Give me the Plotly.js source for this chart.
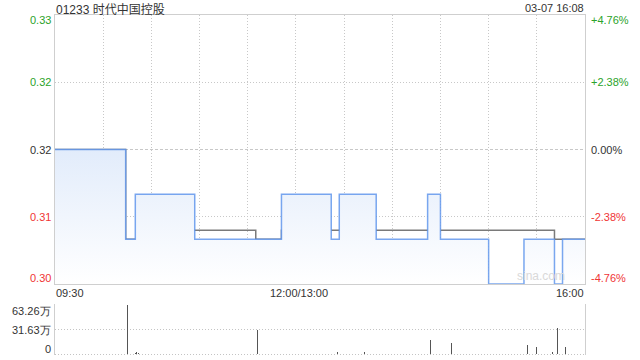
<!DOCTYPE html>
<html>
<head>
<meta charset="utf-8">
<script src="https://cdn.plot.ly/plotly-3.0.1.min.js"></script>
<style>html,body{margin:0;padding:0;background:#fff;}#chart{width:640px;height:360px;}</style>
</head>
<body>
<div id="chart"></div>
<script>
// ---- data (minutes since 09:30, lunch break removed; 150 = 12:00/13:00, 330 = 16:00) ----
const stockTitle = "01233 时代中国控股";
const stampText = "03-07 16:08";
const prevClose = 0.315;

const priceTimes  = [0, 44, 50, 87, 141, 172, 177, 200, 232, 240, 270, 292, 311, 316, 330];
const priceValues = [0.315, 0.305, 0.31, 0.305, 0.31, 0.305, 0.31, 0.305, 0.31, 0.305, 0.30, 0.305, 0.30, 0.305, 0.305];

const avgTimes  = [0, 44, 75, 125, 141, 311, 330];
const avgValues = [0.315, 0.305, 0.306, 0.305, 0.306, 0.305, 0.305];

const volTimes  = [45, 50, 51, 52, 75, 126, 141, 176, 193, 234, 247, 294, 300, 310, 313, 318];
const volValues = [63.26, 1.2, 2.8, 1.0, 0.6, 31.4, 0.6, 2.5, 2.5, 18.0, 14.0, 11.6, 9.0, 2.0, 33.8, 9.0]; // 万

const priceTicks = [0.30, 0.3075, 0.315, 0.3225, 0.33];
const priceTickText = ["0.30", "0.31", "0.32", "0.32", "0.33"];
const pctTickText = ["-4.76%", "-2.38%", "0.00%", "+2.38%", "+4.76%"];
const volTicks = [0, 31.63, 63.26];
const volTickText = ["0", "31.63万", "63.26万"];
const timeTicks = [0, 150, 330];
const timeTickText = ["09:30", "12:00/13:00", "16:00"];

// ---- layout geometry ----
const W = 640, H = 360;
const L = 55 / W, R = 585 / W;
const mainDom = [1 - 284 / H, 1 - 15 / H];
const volDom = [1 - 355 / H, 1 - 304 / H];
const volPad = 63.26 / 49; // one pixel of volume axis

const GREEN = '#2ba32b', RED = '#f03535', DARK = '#333333';
const FONT = 'Liberation Sans, Arial, sans-serif';
const FINE_DOT = '1px,2px';

function tickColor(v) { return v > prevClose + 1e-9 ? GREEN : (v < prevClose - 1e-9 ? RED : DARK); }

const gridX = [];
for (let m = 0; m <= 330; m += 30) gridX.push(m);

const traces = [
  {
    x: avgTimes, y: avgValues, type: 'scatter', mode: 'lines',
    line: {color: '#7a7a7a', width: 1.5, shape: 'hv'},
    xaxis: 'x', yaxis: 'y', hoverinfo: 'skip'
  },
  {
    x: priceTimes, y: priceValues, type: 'scatter', mode: 'lines',
    line: {color: 'rgba(84,142,234,0.78)', width: 1.5, shape: 'hv'},
    fill: 'tozeroy',
    fillgradient: {type: 'vertical', start: 0.30, stop: 0.315,
      colorscale: [[0, 'rgba(255,255,255,1)'], [1, 'rgba(226,236,251,1)']]},
    xaxis: 'x', yaxis: 'y', hoverinfo: 'skip'
  },
  {
    x: volTimes, y: volValues, type: 'bar', width: 0.6,
    marker: {color: '#555555', line: {width: 0}},
    xaxis: 'x2', yaxis: 'y2', hoverinfo: 'skip'
  }
];

const annotations = [];
function ann(o) {
  annotations.push(Object.assign({showarrow: false, font: {family: FONT, size: 11, color: DARK}, borderpad: 0}, o));
}
ann({text: stockTitle, xref: 'paper', yref: 'paper', x: L, y: 1 - 9 / H, xanchor: 'left', yanchor: 'middle',
     font: {family: 'Liberation Sans, "Noto Sans CJK SC", sans-serif', size: 12, color: DARK}});
ann({text: stampText, xref: 'paper', yref: 'paper', x: R, y: 1 - 8 / H, xanchor: 'right', yanchor: 'middle'});

priceTicks.forEach((v, i) => {
  const shift = i === 0 ? 6 : (i === priceTicks.length - 1 ? -5 : 0);
  ann({text: priceTickText[i], xref: 'paper', yref: 'y', x: 52 / W, y: v, yshift: shift,
       xanchor: 'right', yanchor: 'middle', font: {family: FONT, size: 11, color: tickColor(v)}});
  ann({text: pctTickText[i], xref: 'paper', yref: 'y', x: 590 / W, y: v, yshift: shift,
       xanchor: 'left', yanchor: 'middle', font: {family: FONT, size: 11, color: tickColor(v)}});
});

volTicks.forEach((v, i) => {
  const shift = i === 0 ? 5 : (i === volTicks.length - 1 ? -6 : 0);
  ann({text: volTickText[i], xref: 'paper', yref: 'y2', x: 52 / W, y: v, yshift: shift,
       xanchor: 'right', yanchor: 'middle'});
});

timeTicks.forEach((t, i) => {
  ann({text: timeTickText[i], xref: 'x', yref: 'paper', x: t, y: 1 - 293 / H, xshift: i === 1 ? 3 : 0,
       xanchor: i === 0 ? 'left' : (i === timeTicks.length - 1 ? 'right' : 'center'), yanchor: 'middle'});
});

ann({text: 'sina.com', xref: 'x', yref: 'y', x: 318, y: 0.30, yshift: 8, xanchor: 'right', yanchor: 'middle',
     font: {family: FONT, size: 12, color: '#d9d9d9'}});

const layout = {
  width: W, height: H,
  margin: {l: 0, r: 0, t: 0, b: 0},
  paper_bgcolor: '#ffffff', plot_bgcolor: '#ffffff',
  showlegend: false,
  bargap: 0,
  xaxis: {
    domain: [L, R], range: [0, 330], anchor: 'y',
    tickmode: 'array', tickvals: gridX, showticklabels: false, ticks: '',
    showgrid: true, gridcolor: '#c8c8c8', griddash: FINE_DOT, gridwidth: 1,
    zeroline: false, showline: true, linecolor: '#cfcfcf', linewidth: 1, mirror: true
  },
  yaxis: {
    domain: mainDom, range: [0.30, 0.33], anchor: 'x',
    tickmode: 'array', tickvals: [0.3075, 0.3225], showticklabels: false, ticks: '',
    showgrid: true, gridcolor: '#c8c8c8', griddash: FINE_DOT, gridwidth: 1,
    zeroline: false, showline: true, linecolor: '#cfcfcf', linewidth: 1, mirror: true
  },
  xaxis2: {
    domain: [L, R], range: [0, 330], anchor: 'y2',
    showticklabels: false, ticks: '', showgrid: false, zeroline: false, showline: false
  },
  yaxis2: {
    domain: volDom, range: [-volPad, 63.26 + volPad], anchor: 'x2',
    tickmode: 'array', tickvals: volTicks, showticklabels: false, ticks: '',
    showgrid: true, gridcolor: '#c4c4c4', griddash: FINE_DOT, gridwidth: 1,
    zeroline: false, showline: true, linecolor: '#cfcfcf', linewidth: 1, mirror: true
  },
  shapes: [
    {type: 'line', xref: 'paper', yref: 'y', x0: L, x1: R, y0: prevClose, y1: prevClose,
     line: {color: '#c8c8c8', width: 1, dash: '3px,2px'}, layer: 'below'}
  ],
  annotations: annotations
};

Plotly.newPlot('chart', traces, layout, {staticPlot: true, displayModeBar: false});
</script>
</body>
</html>
